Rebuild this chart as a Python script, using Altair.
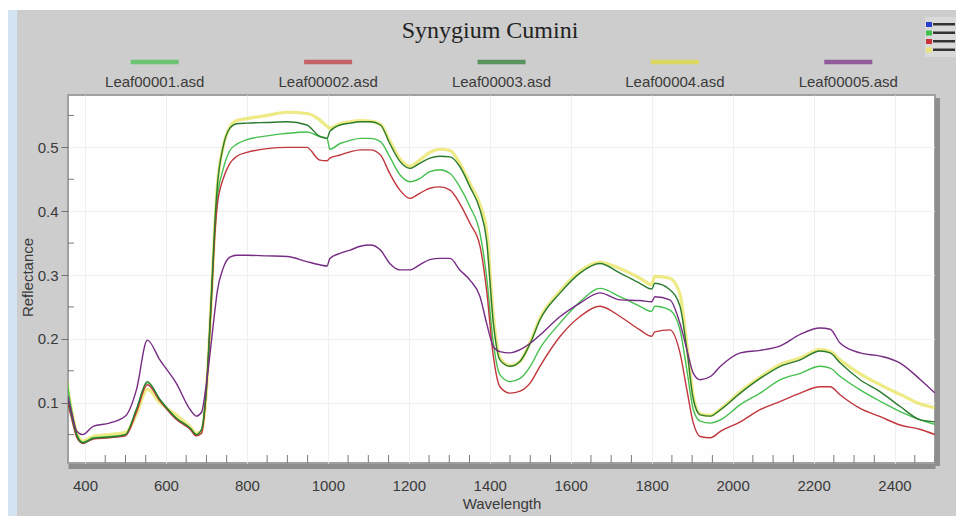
import altair as alt
import pandas as pd

# ---------------- data ----------------
title_text = "Synygium Cumini"
names = ["Leaf00001.asd", "Leaf00002.asd", "Leaf00003.asd", "Leaf00004.asd", "Leaf00005.asd"]
colors = ["#45c04e", "#c0363c", "#2a7a2f", "#e2dc32", "#762c84"]

wavelength = [
    350, 365, 380, 395, 420, 460, 500, 527, 554, 585,
    625, 660, 675, 688, 700, 713, 721, 727, 741, 758,
    775, 800, 850, 900, 948, 980, 998, 1005, 1030, 1055,
    1080, 1105, 1130, 1153, 1178, 1203, 1227, 1252, 1277, 1302,
    1326, 1351, 1376, 1392, 1409, 1425, 1450, 1475, 1500, 1524,
    1574, 1623, 1672, 1722, 1771, 1800, 1808, 1845, 1870, 1887,
    1903, 1920, 1945, 1970, 2019, 2068, 2118, 2167, 2216, 2241,
    2266, 2315, 2365, 2414, 2464, 2500,
]
leaf1 = [
    0.160, 0.095, 0.050, 0.038, 0.045, 0.047, 0.050, 0.088, 0.131, 0.105,
    0.076, 0.060, 0.050, 0.058, 0.120, 0.270, 0.370, 0.420, 0.465, 0.495,
    0.505, 0.512, 0.518, 0.522, 0.524, 0.517, 0.514, 0.497, 0.506, 0.511,
    0.514, 0.514, 0.509, 0.485, 0.457, 0.446, 0.451, 0.462, 0.465, 0.459,
    0.438, 0.407, 0.365, 0.298, 0.193, 0.144, 0.133, 0.138, 0.157, 0.185,
    0.225, 0.258, 0.279, 0.266, 0.251, 0.243, 0.251, 0.245, 0.214, 0.151,
    0.089, 0.071, 0.068, 0.073, 0.097, 0.115, 0.136, 0.146, 0.157, 0.154,
    0.141, 0.120, 0.102, 0.086, 0.073, 0.066,
]
leaf2 = [
    0.120, 0.080, 0.045, 0.036, 0.043, 0.045, 0.048, 0.085, 0.128, 0.103,
    0.074, 0.058, 0.048, 0.052, 0.120, 0.270, 0.365, 0.410, 0.450, 0.475,
    0.486, 0.492, 0.498, 0.500, 0.500, 0.480, 0.479, 0.483, 0.488, 0.493,
    0.496, 0.496, 0.488, 0.459, 0.433, 0.420, 0.428, 0.436, 0.438, 0.433,
    0.412, 0.381, 0.345, 0.277, 0.172, 0.125, 0.115, 0.118, 0.131, 0.157,
    0.204, 0.235, 0.251, 0.235, 0.214, 0.204, 0.211, 0.214, 0.178, 0.120,
    0.068, 0.047, 0.045, 0.055, 0.070, 0.089, 0.102, 0.115, 0.125, 0.125,
    0.112, 0.091, 0.078, 0.065, 0.058, 0.050,
]
leaf3 = [
    0.130, 0.085, 0.048, 0.037, 0.044, 0.046, 0.050, 0.090, 0.133, 0.105,
    0.076, 0.060, 0.050, 0.058, 0.125, 0.280, 0.385, 0.440, 0.500, 0.530,
    0.537, 0.538, 0.539, 0.540, 0.535, 0.517, 0.514, 0.525, 0.535, 0.538,
    0.540, 0.540, 0.535, 0.506, 0.478, 0.467, 0.475, 0.483, 0.486, 0.485,
    0.470, 0.438, 0.402, 0.355, 0.224, 0.167, 0.157, 0.165, 0.193, 0.230,
    0.272, 0.303, 0.318, 0.303, 0.287, 0.278, 0.287, 0.277, 0.251, 0.183,
    0.105, 0.081, 0.079, 0.089, 0.115, 0.138, 0.157, 0.167, 0.181, 0.178,
    0.162, 0.136, 0.117, 0.094, 0.073, 0.070,
]
leaf4 = [
    0.150, 0.095, 0.052, 0.040, 0.047, 0.050, 0.053, 0.082, 0.121, 0.100,
    0.081, 0.062, 0.052, 0.055, 0.120, 0.275, 0.380, 0.440, 0.500, 0.532,
    0.542, 0.545, 0.550, 0.555, 0.553, 0.543, 0.533, 0.530, 0.537, 0.540,
    0.542, 0.541, 0.536, 0.510, 0.482, 0.470, 0.480, 0.492, 0.497, 0.495,
    0.475, 0.443, 0.410, 0.370, 0.235, 0.170, 0.158, 0.165, 0.195, 0.232,
    0.275, 0.306, 0.320, 0.310, 0.295, 0.285, 0.298, 0.295, 0.270, 0.190,
    0.110, 0.082, 0.080, 0.090, 0.117, 0.140, 0.160, 0.170, 0.183, 0.180,
    0.167, 0.145, 0.128, 0.113, 0.098, 0.092,
]
leaf5 = [
    0.130, 0.090, 0.055, 0.050, 0.063, 0.068, 0.079, 0.120, 0.198, 0.167,
    0.131, 0.089, 0.079, 0.085, 0.131, 0.200, 0.245, 0.275, 0.310, 0.328,
    0.331, 0.331, 0.330, 0.329, 0.321, 0.316, 0.314, 0.326, 0.334, 0.339,
    0.345, 0.347, 0.339, 0.318, 0.308, 0.308, 0.316, 0.324, 0.326, 0.326,
    0.308, 0.292, 0.266, 0.225, 0.188, 0.180, 0.178, 0.183, 0.193, 0.206,
    0.235, 0.256, 0.272, 0.261, 0.260, 0.258, 0.266, 0.261, 0.224, 0.183,
    0.146, 0.136, 0.141, 0.157, 0.178, 0.182, 0.189, 0.207, 0.217, 0.215,
    0.193, 0.178, 0.173, 0.162, 0.136, 0.115,
]

x_label_values = [400, 600, 800, 1000, 1200, 1400, 1600, 1800, 2000, 2200, 2400]
y_label_values = [0.1, 0.2, 0.3, 0.4, 0.5]
x_minor = [w for w in range(400, 2501, 50) if w % 200]
y_minor = [0.05, 0.15, 0.25, 0.35, 0.45, 0.55]
icon_colors = ["#2b3fcf", "#3cc04a", "#c8323a", "#ece27a"]

series = [leaf1, leaf2, leaf3, leaf4, leaf5]
for s in series:
    assert len(s) == len(wavelength)

rows = []
for n, s in zip(names, series):
    for w, v in zip(wavelength, s):
        rows.append({"wavelength": w, "reflectance": v, "name": n})
df = pd.DataFrame(rows)

# ---------------- layout / style ----------------
W, H = 867, 368
FONT = "Liberation Sans"
TXT = "#3a3a3a"
xscale = alt.Scale(domain=[358, 2500], nice=False, zero=False)
yscale = alt.Scale(domain=[0.0055, 0.582], nice=False, zero=False)
cscale = alt.Scale(domain=names, range=colors)
one = pd.DataFrame({"k": [0]})

x_axis = alt.Axis(
    values=x_label_values, format="d", title="Wavelength",
    labelFont=FONT, labelFontSize=15, labelColor=TXT, labelPadding=12,
    ticks=False, domain=True, domainColor="#8e8e8e", domainWidth=5, offset=3,
    grid=True, gridColor="#efefef",
    titleFont=FONT, titleFontSize=15, titleFontWeight="normal", titleColor=TXT,
    titleY=42, titleBaseline="alphabetic",
)
y_axis = alt.Axis(
    values=y_label_values, format=".1f", title="Reflectance",
    labelFont=FONT, labelFontSize=15, labelColor=TXT, labelPadding=3,
    ticks=True, tickSize=7, tickColor="#707070", domain=False,
    grid=True, gridColor="#efefef",
    titleFont=FONT, titleFontSize=15, titleFontWeight="normal", titleColor=TXT,
    titleX=-41, titleY=182, titleAngle=270, titleBaseline="middle", titleAlign="center",
)

base = alt.Chart(df)
yellow = base.transform_filter(alt.datum.name == names[3]).mark_line(
    clip=True, strokeWidth=3.2, opacity=0.6, interpolate="monotone"
).encode(
    x=alt.X("wavelength:Q", scale=xscale, axis=x_axis),
    y=alt.Y("reflectance:Q", scale=yscale, axis=y_axis),
    color=alt.Color("name:N", scale=cscale, legend=None),
)
others = base.transform_filter(alt.datum.name != names[3]).mark_line(
    clip=True, strokeWidth=1.4, interpolate="monotone"
).encode(
    x=alt.X("wavelength:Q", scale=xscale),
    y=alt.Y("reflectance:Q", scale=yscale),
    color=alt.Color("name:N", scale=cscale, legend=None),
)
xm = alt.Chart(pd.DataFrame({"t": x_minor})).mark_rule(color="#7a7a7a", strokeWidth=1).encode(
    x=alt.X("t:Q", scale=xscale), y=alt.value(H), y2=alt.value(H - 8)
)
ym = alt.Chart(pd.DataFrame({"t": y_minor})).mark_rule(color="#7a7a7a", strokeWidth=1).encode(
    y=alt.Y("t:Q", scale=yscale), x=alt.value(0), x2=alt.value(6)
)

# legend drawn above the plot: swatch line above each label, evenly spread
leg_df = pd.DataFrame({"name": names, "i": list(range(len(names)))})
leg_base = alt.Chart(leg_df).transform_calculate(
    px=f"(datum.i + 0.5) * {W / len(names)}"
)
sw = leg_base.mark_tick(orient="horizontal", size=48, thickness=4.5).encode(
    x=alt.X("px:Q", scale=None, axis=None), y=alt.value(-33),
    color=alt.Color("name:N", scale=cscale, legend=None),
)
lab = leg_base.mark_text(
    font=FONT, fontSize=15, color=TXT, baseline="alphabetic", align="center"
).encode(x=alt.X("px:Q", scale=None, axis=None), y=alt.value(-8), text="name:N")

title = alt.Chart(one).mark_text(
    text=title_text, font="Liberation Serif", fontSize=24, color="#222222",
    align="center", baseline="alphabetic"
).encode(x=alt.value(422), y=alt.value(-57))

def box(x1, x2, y1, y2, color):
    return alt.Chart(one).mark_rect(color=color).encode(
        x=alt.value(x1), x2=alt.value(x2), y=alt.value(y1), y2=alt.value(y2)
    )

decor = [
    box(-68, 888, -95, -85, "#ffffff"),
    box(-68, -60, -85, 421, "#ffffff"),
    box(-60, -51, -85, 421, "#d4e4f3"),
    alt.Chart(one).mark_rule(color="#8e8e8e", strokeWidth=5).encode(
        x=alt.value(W + 2.5), y=alt.value(3), y2=alt.value(H + 3)
    ),
    box(857, 888, -78, -38, "#d9d9d9"),
]
icon = []
for i, c in enumerate(icon_colors):
    top = -73 + i * 8.5
    icon.append(box(858, 864, top, top + 5, c))
    icon.append(box(865, 887, top + 1, top + 3.5, "#333333"))

chart = alt.layer(
    yellow, others, xm, ym, *decor, sw, lab, title, *icon
).properties(
    width=W, height=H,
    padding={"left": 68, "top": 95, "right": 21, "bottom": 53},
    autosize=alt.AutoSizeParams(type="none"),
).configure(background="#cdcdcd").configure_view(
    stroke="#a0a0a0", strokeWidth=2, fill="#fefefe"
)

chart.save("out.html", embed_options={"renderer": "svg", "actions": False})
